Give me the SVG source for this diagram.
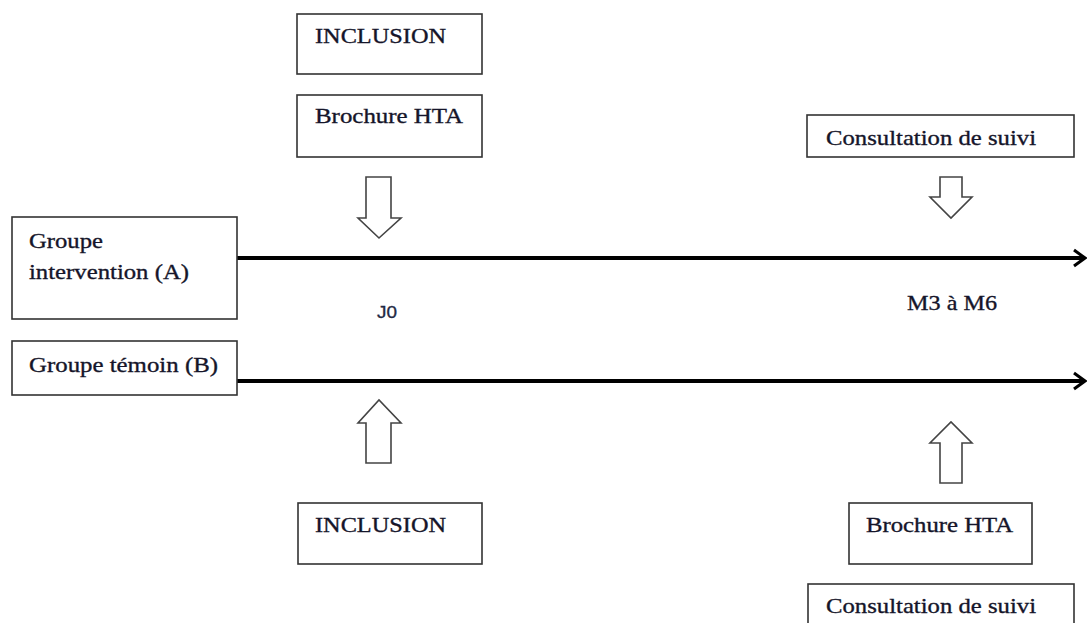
<svg xmlns="http://www.w3.org/2000/svg" width="1088" height="623" viewBox="0 0 1088 623">
<style>
.box{fill:#fff;stroke:#333;stroke-width:1.6}
.t{font-family:"Liberation Serif","Times New Roman",serif;font-size:22px;fill:#15152a;stroke:#15152a;stroke-width:0.35}
.s{font-family:"Liberation Sans",Arial,sans-serif;font-size:16px;fill:#1f2a44;stroke:#1f2a44;stroke-width:0.3}
.bl{fill:#fff;stroke:#444;stroke-width:1.6;stroke-linejoin:miter}
.tl{stroke:#000;stroke-width:3.8;fill:none}
</style>
<defs>
<marker id="ah" markerWidth="14" markerHeight="20" refX="12" refY="10" orient="auto" markerUnits="userSpaceOnUse">
<path d="M1,2 L12,10 L1,18" fill="none" stroke="#000" stroke-width="3"/>
</marker>
</defs>
<rect width="1088" height="623" fill="#fff"/>
<g id="connectors">
<line class="tl" x1="237" y1="258" x2="1085" y2="258" marker-end="url(#ah)"/>
<line class="tl" x1="237" y1="381" x2="1085" y2="381" marker-end="url(#ah)"/>
<path id="arrow-j0-down" class="bl" d="M366,177 H391 V218 H401 L379,238 L358,218 H366 Z"/>
<path id="arrow-j0-up" class="bl" d="M366,463 H391 V423 H401 L379,400 L358,423 H366 Z"/>
<path id="arrow-m3-down" class="bl" d="M940,177 H962 V197 H972 L951,218 L930,197 H940 Z"/>
<path id="arrow-m3-up" class="bl" d="M940,483 H962 V443 H972 L951,422 L930,443 H940 Z"/>
</g>
<g id="inclusion-top"><rect class="box" x="297" y="14" width="185" height="60"/><text class="t" x="315" y="43" textLength="131" lengthAdjust="spacingAndGlyphs">INCLUSION</text></g>
<g id="brochure-top"><rect class="box" x="297" y="95" width="185" height="62"/><text class="t" x="315" y="123" textLength="148" lengthAdjust="spacingAndGlyphs">Brochure HTA</text></g>
<g id="consult-top"><rect class="box" x="807" y="115" width="267" height="42"/><text class="t" x="826" y="145" textLength="210" lengthAdjust="spacingAndGlyphs">Consultation de suivi</text></g>
<g id="groupe-a"><rect class="box" x="12" y="217" width="225" height="102"/><text class="t" x="29" y="248" textLength="74" lengthAdjust="spacingAndGlyphs">Groupe</text><text class="t" x="29" y="279" textLength="160" lengthAdjust="spacingAndGlyphs">intervention (A)</text></g>
<g id="groupe-b"><rect class="box" x="12" y="341" width="225" height="54"/><text class="t" x="29" y="372" textLength="189" lengthAdjust="spacingAndGlyphs">Groupe témoin (B)</text></g>
<g id="j0"><text class="s" x="377" y="318" textLength="20" lengthAdjust="spacingAndGlyphs">J0</text></g>
<g id="m3m6"><text class="t" x="907" y="310" textLength="90" lengthAdjust="spacingAndGlyphs">M3 à M6</text></g>
<g id="inclusion-bottom"><rect class="box" x="298" y="503" width="184" height="61"/><text class="t" x="315" y="532" textLength="131" lengthAdjust="spacingAndGlyphs">INCLUSION</text></g>
<g id="brochure-bottom"><rect class="box" x="849" y="503" width="183" height="61"/><text class="t" x="866" y="532" textLength="147" lengthAdjust="spacingAndGlyphs">Brochure HTA</text></g>
<g id="consult-bottom"><rect class="box" x="808" y="584" width="266" height="60"/><text class="t" x="826" y="613" textLength="210" lengthAdjust="spacingAndGlyphs">Consultation de suivi</text></g>
</svg>
